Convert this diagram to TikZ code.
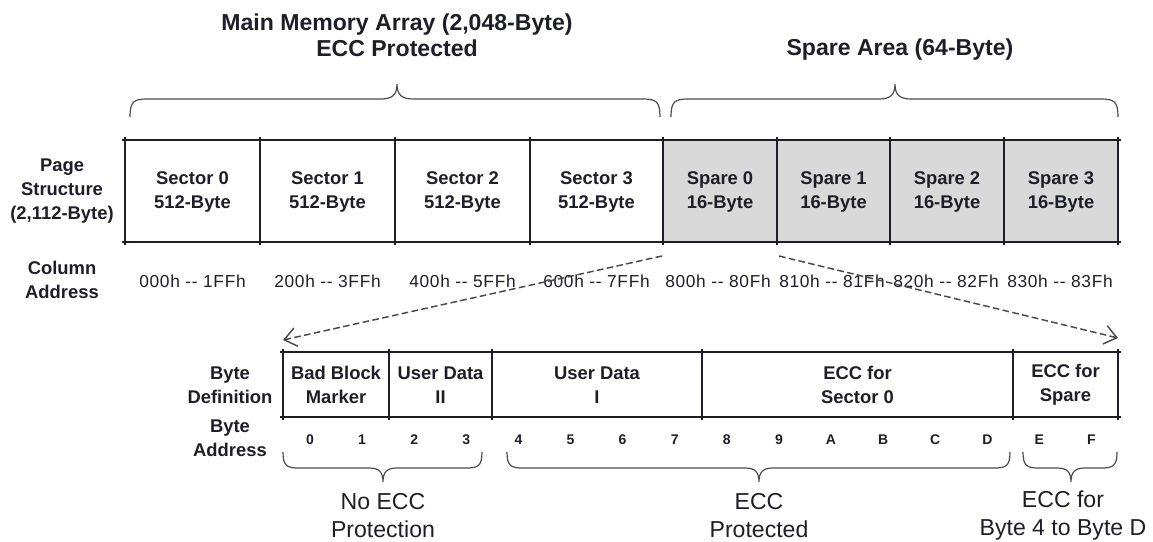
\documentclass[tikz,border=0pt]{standalone}
\usepackage{fontspec}
\setmainfont{Liberation Sans}
\usetikzlibrary{arrows.meta}
\definecolor{ink}{HTML}{1E1E28}
\definecolor{sparefill}{HTML}{D9D9D9}
\definecolor{dashgray}{HTML}{4A4A4A}
\begin{document}
\begin{tikzpicture}[x=0.75pt,y=-0.75pt,
  boldlbl/.style={font=\fontsize{13.8}{18}\selectfont\bfseries, align=center, inner sep=0pt, text=ink},
  titlelbl/.style={font=\fontsize{17.3}{19.5}\selectfont\bfseries, align=center, inner sep=0pt, text=ink},
  addrlbl/.style={font=\fontsize{13}{14}\selectfont\addfontfeature{LetterSpace=4}, inner sep=0pt, text=ink},
  digitlbl/.style={font=\fontsize{10.5}{12}\selectfont\bfseries, inner sep=0pt, text=ink},
  biglbl/.style={font=\fontsize{17.3}{21}\selectfont, align=center, inner sep=0pt, text=ink},
  gridline/.style={line width=1.2pt, draw=ink},
  bracepath/.style={line width=0.9pt, draw=ink!80},
  link/.style={draw=dashgray, line width=1.1pt, dash pattern=on 5pt off 2.5pt, -{Straight Barb[length=9pt,width=14pt,line width=1.1pt]}}]
\useasboundingbox (0,0) rectangle (1153,542);

% titles
\node[titlelbl] (tmain) at (397,35) {Main Memory Array (2,048-Byte)\\ECC Protected};
\node[titlelbl] (tspare) at (900,50) {Spare Area (64-Byte)};

% top braces
\draw[bracepath] (130,117) .. controls (130,101) and (134,99) .. (148,99) -- (381,99)
  .. controls (392,99) and (397,95) .. (397,84) .. controls (397,95) and (402,99) .. (413,99)
  -- (642,99) .. controls (656,99) and (660,101) .. (660,117);
\draw[bracepath] (671,117) .. controls (671,101) and (675,99) .. (689,99) -- (879,99)
  .. controls (890,99) and (895,95) .. (895,84) .. controls (895,95) and (900,99) .. (911,99)
  -- (1100,99) .. controls (1114,99) and (1118,101) .. (1118,117);

% page structure row
\fill[sparefill] (663,140) rectangle (1118,242);
\draw[gridline] (122,140) -- (1121,140);
\draw[gridline] (122,242) -- (1121,242);
\foreach \xx in {125,260,395,530,663,777,890,1004,1118}
  \draw[gridline] (\xx,137) -- (\xx,245);

\node[boldlbl] (ps) at (62,191) {Page\\Structure\\(2,112-Byte)};
\node[boldlbl] (s0) at (192.5,192) {Sector 0\\512-Byte};
\node[boldlbl] (s1) at (327.5,192) {Sector 1\\512-Byte};
\node[boldlbl] (s2) at (462.5,192) {Sector 2\\512-Byte};
\node[boldlbl] (s3) at (596.5,192) {Sector 3\\512-Byte};
\node[boldlbl] (p0) at (720,192) {Spare 0\\16-Byte};
\node[boldlbl] (p1) at (833.5,192) {Spare 1\\16-Byte};
\node[boldlbl] (p2) at (947,192) {Spare 2\\16-Byte};
\node[boldlbl] (p3) at (1061,192) {Spare 3\\16-Byte};

% column address
\node[boldlbl] (ca) at (62,280) {Column\\Address};
\node[addrlbl] (c0) at (192.5,281) {000h -{}- 1FFh};
\node[addrlbl] (c1) at (327.5,281) {200h -{}- 3FFh};
\node[addrlbl] (c2) at (462.5,281) {400h -{}- 5FFh};
\node[addrlbl] (c3) at (596.5,281) {600h -{}- 7FFh};
\node[addrlbl] (c4) at (718,281) {800h -{}- 80Fh};
\node[addrlbl] (c5) at (832,281) {810h -{}- 81Fh};
\node[addrlbl] (c6) at (946,281) {820h -{}- 82Fh};
\node[addrlbl] (c7) at (1060,281) {830h -{}- 83Fh};

% dashed expansion arrows
\coordinate (a0) at (662,256);
\coordinate (a1) at (779,256);
\coordinate (b0) at (283,340);
\coordinate (b1) at (1118,338);
\draw[link] (a0) -- (b0);
\draw[link] (a1) -- (b1);

% byte definition row
\draw[gridline] (280,352) -- (1121,352);
\draw[gridline] (280,417) -- (1121,417);
\foreach \xx in {283,389,492,702,1013,1118}
  \draw[gridline] (\xx,349) -- (\xx,420);

\node[boldlbl] (bd) at (230,385) {Byte\\Definition};
\node[boldlbl] (d0) at (336,385) {Bad Block\\Marker};
\node[boldlbl] (d1) at (440.5,385) {User Data\\II};
\node[boldlbl] (d2) at (597,385) {User Data\\I};
\node[boldlbl] (d3) at (857.5,385) {ECC for\\Sector 0};
\node[boldlbl] (d4) at (1065.5,385) {ECC for\\Spare};

% byte address
\node[boldlbl] (ba) at (230,438) {Byte\\Address};
\foreach \dg [count=\i from 0] in {0,1,2,3,4,5,6,7,8,9,A,B,C,D,E,F}
  \node[digitlbl] (g\i) at (310+52.1*\i,440) {\dg};

% bottom braces
\draw[bracepath] (283,452) .. controls (283,466) and (287,468) .. (299,468) -- (369,468)
  .. controls (379,468) and (383,472) .. (383,482) .. controls (383,472) and (387,468) .. (397,468)
  -- (466,468) .. controls (478,468) and (482,466) .. (482,452);
\draw[bracepath] (507,452) .. controls (507,466) and (511,468) .. (523,468) -- (745,468)
  .. controls (755,468) and (759,472) .. (759,482) .. controls (759,472) and (763,468) .. (773,468)
  -- (994,468) .. controls (1006,468) and (1010,466) .. (1010,452);
\draw[bracepath] (1023,452) .. controls (1023,466) and (1027,468) .. (1039,468) -- (1057,468)
  .. controls (1067,468) and (1071,472) .. (1071,482) .. controls (1071,472) and (1075,468) .. (1085,468)
  -- (1101,468) .. controls (1113,468) and (1117,466) .. (1117,452);

\node[biglbl] (n0) at (383,516) {No ECC\\Protection};
\node[biglbl] (n1) at (759,516) {ECC\\Protected};
\node[biglbl] (n2) at (1063,516) {ECC for\\Byte 4 to Byte D};
\end{tikzpicture}
\end{document}
